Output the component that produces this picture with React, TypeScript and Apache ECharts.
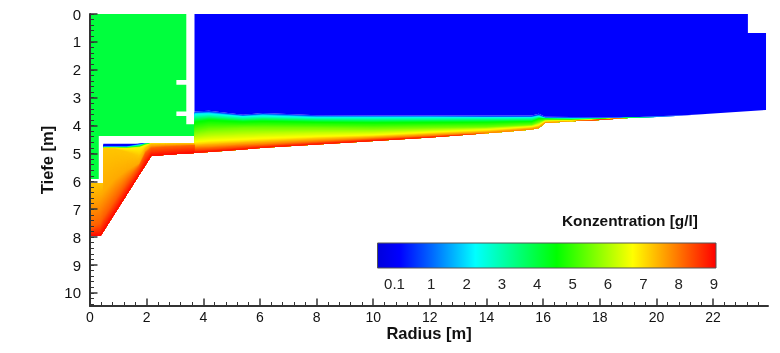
import React, { useEffect, useRef } from "react";
import * as echarts from "echarts";

const xTitle = "Radius [m]";
const yTitle = "Tiefe [m]";
const legendTitle = "Konzentration [g/l]";
const legendTickValues = [-0.04, 1, 2, 3, 4, 5, 6, 7, 8, 9];
const legendLabels = ["0.1", "1", "2", "3", "4", "5", "6", "7", "8", "9"];
const legendRange = [-0.52, 9.056];
const xMajorTicks = [0, 2, 4, 6, 8, 10, 12, 14, 16, 18, 20, 22];
const yMajorTicks = [0, 1, 2, 3, 4, 5, 6, 7, 8, 9, 10];

const colorScale: [number, string][] = [
  [-0.52, "#0000dc"],
  [0.1, "#0000ff"],
  [1, "#0066ff"],
  [2.25, "#00ffff"],
  [4.55, "#00ff00"],
  [6.7, "#ffff00"],
  [7.9, "#ff8000"],
  [9.056, "#ff0000"],
];

const tankLevel = 4.0;
const clearLevel = 0.1;

const tankOutline = [
  [0, 0], [3.4, 0], [3.4, 2.37], [3.05, 2.37], [3.05, 2.54], [3.4, 2.54], [3.4, 3.5], [3.05, 3.5],
  [3.05, 3.66], [3.4, 3.66], [3.4, 3.95], [3.69, 3.95], [3.69, 4.37], [0.31, 4.37], [0.31, 5.92], [0, 5.92],
];
const clearHead = [
  [3.69, 0], [23.23, 0], [23.23, 0.68], [23.87, 0.68],
];

const channelRadius = [3.69, 4.2, 5.4, 6.1, 8, 10, 12, 14, 15.6, 15.85, 16.07, 17, 18, 19, 20, 21, 22, 23.87];
const channelLevels = [0.1, 1, 2.25, 4.5, 5.5, 6.7, 8, 9];
const channelDepth01 = [3.5, 3.47, 3.61, 3.55, 3.63, 3.64, 3.64, 3.64, 3.64, 3.58, 3.68, 3.69, 3.71, 3.71, 3.67, 3.63, 3.57, 3.44];
const channelDepth1 = [3.54, 3.51, 3.64, 3.59, 3.66, 3.67, 3.67, 3.68, 3.68, 3.62, 3.71, 3.72, 3.73, 3.715, 3.68, 3.64, 3.57, 3.44];
const channelDepth2 = [3.58, 3.57, 3.67, 3.64, 3.7, 3.7, 3.7, 3.7, 3.7, 3.66, 3.73, 3.74, 3.75, 3.72, 3.69, 3.64, 3.57, 3.44];
const channelDepth4 = [3.87, 3.8, 3.86, 3.84, 3.87, 3.89, 3.88, 3.87, 3.85, 3.75, 3.76, 3.78, 3.76, 3.725, 3.69, 3.64, 3.57, 3.44];
const channelDepth5 = [4.23, 4.14, 4.08, 4.08, 4.08, 4.1, 4.07, 4.05, 3.98, 3.88, 3.8, 3.8, 3.77, 3.73, 3.69, 3.64, 3.57, 3.44];
const channelDepth6 = [4.59, 4.55, 4.5, 4.46, 4.39, 4.34, 4.24, 4.15, 4.04, 3.98, 3.84, 3.82, 3.78, 3.73, 3.69, 3.64, 3.57, 3.44];
const channelDepth8 = [4.8, 4.78, 4.71, 4.68, 4.57, 4.46, 4.37, 4.28, 4.14, 4.09, 3.91, 3.85, 3.78, 3.73, 3.69, 3.64, 3.57, 3.44];
const channelDepth9 = [4.98, 4.95, 4.86, 4.8, 4.68, 4.55, 4.43, 4.28, 4.14, 4.09, 3.91, 3.85, 3.8, 3.73, 3.69, 3.64, 3.57, 3.44];

const hopperRadius = [0, 0.37, 0.47, 0.47, 0.9, 1.3, 1.75, 1.96, 2.16, 2.6, 3.2, 3.69];
const hopperLevels = [0.1, 0.1, 2.25, 4.5, 6.8, 7.25, 7.5, 8.2, 9];
const hopperDepthA = [6.06, 6.06, 6.06, 4.65, 4.65, 4.65, 4.65, 4.63, 4.63, 4.63, 4.63, 4.63];
const hopperDepthB = [6.06, 6.06, 6.06, 4.74, 4.74, 4.74, 4.65, 4.63, 4.63, 4.63, 4.63, 4.63];
const hopperDepthC = [6.06, 6.06, 6.06, 4.76, 4.76, 4.76, 4.69, 4.63, 4.63, 4.63, 4.63, 4.63];
const hopperDepthD = [6.06, 6.06, 6.06, 4.78, 4.78, 4.78, 4.74, 4.65, 4.63, 4.63, 4.63, 4.63];
const hopperDepthE = [6.06, 6.06, 6.06, 4.8, 4.8, 4.81, 4.78, 4.7, 4.63, 4.63, 4.63, 4.63];
const hopperDepthF = [6.06, 6.06, 6.06, 4.82, 4.84, 4.95, 5.1, 4.8, 4.66, 4.66, 4.65, 4.65];
const hopperDepthF2 = [6.6, 6.5, 6.4, 6.4, 5.9, 5.6, 5.35, 4.9, 4.72, 4.7, 4.68, 4.68];
const hopperDepthG = [7.7, 7.5, 7.3, 7.3, 6.65, 6.05, 5.45, 5.0, 4.82, 4.78, 4.75, 4.72];
const hopperDepthH = [7.96, 7.96, 7.8, 7.8, 7.11, 6.47, 5.75, 5.41, 5.09, 5.06, 5.01, 4.98];

const channelRows = [channelDepth01, channelDepth1, channelDepth2, channelDepth4, channelDepth5, channelDepth6, channelDepth8, channelDepth9];
const hopperRows = [hopperDepthA, hopperDepthB, hopperDepthC, hopperDepthD, hopperDepthE, hopperDepthF, hopperDepthF2, hopperDepthG, hopperDepthH];
const clearOutline = clearHead.concat(
  channelRadius.map((r, i) => [r, channelDepth01[i]]).reverse()
);

function hexToRgb(h: string) {
  return [parseInt(h.slice(1, 3), 16), parseInt(h.slice(3, 5), 16), parseInt(h.slice(5, 7), 16)];
}
function colorOf(v: number) {
  for (let i = 1; i < colorScale.length; i++) {
    if (v <= colorScale[i][0]) {
      const [v0, c0] = colorScale[i - 1];
      const [v1, c1] = colorScale[i];
      const t = Math.max(0, (v - v0) / (v1 - v0));
      const a = hexToRgb(c0);
      const b = hexToRgb(c1);
      return `rgb(${a.map((x, k) => Math.round(x + (b[k] - x) * t)).join(",")})`;
    }
  }
  return colorScale[colorScale.length - 1][1];
}

function outlineItem(points: number[][], level: number) {
  return (_: any, api: any) => ({
    type: "polygon",
    shape: { points: points.map((p) => api.coord(p)) },
    style: { fill: colorOf(level) },
  });
}

// Filled contour bands: each band runs from its upper contour down to the lower boundary
function bandItem(radius: number[], levels: number[], rows: number[][]) {
  return (_: any, api: any) => {
    const children: any[] = [];
    const bottom = rows[rows.length - 1].map((d, i) => api.coord([radius[i], d]));
    for (let k = 0; k < rows.length - 1; k++) {
      const thick = Math.max(...rows[k].map((d, i) => rows[k + 1][i] - d));
      const steps = Math.max(1, Math.ceil(thick * 28));
      for (let s = 0; s < steps; s++) {
        const t = (s + 0.5) / steps;
        const u = s / steps;
        const top = rows[k].map((d, i) => api.coord([radius[i], d + (rows[k + 1][i] - d) * u]));
        children.push({
          type: "polygon",
          shape: { points: top.concat(bottom.slice().reverse()) },
          style: { fill: colorOf(levels[k] + (levels[k + 1] - levels[k]) * t) },
        });
      }
    }
    return { type: "group", children };
  };
}

function legendBarItem(_: any, api: any) {
  const a = api.coord([legendRange[0], 1]);
  const b = api.coord([legendRange[1], 0]);
  const span = legendRange[1] - legendRange[0];
  return {
    type: "rect",
    shape: { x: a[0], y: a[1], width: b[0] - a[0], height: b[1] - a[1] },
    style: {
      stroke: "#555",
      lineWidth: 1,
      fill: new echarts.graphic.LinearGradient(
        0, 0, 1, 0,
        colorScale.map(([v, c]) => ({ offset: (v - legendRange[0]) / span, color: c }))
      ),
    },
  };
}

const font = "'Liberation Sans', Arial, sans-serif";

export default function App() {
  const ref = useRef<HTMLDivElement>(null);
  useEffect(() => {
    const chart = echarts.init(ref.current!, undefined, { renderer: "svg" });
    const customBase = { type: "custom", silent: true, clip: false, data: [[0]], xAxisIndex: 0, yAxisIndex: 0 };
    chart.setOption({
      animation: false,
      backgroundColor: "#fff",
      title: {
        text: legendTitle,
        left: 562,
        top: 213,
        textStyle: { fontFamily: font, fontSize: 15.4, fontWeight: "bold", color: "#111" },
        padding: 0,
      },
      grid: [
        { left: 90, top: 14, width: 678, height: 292 },
        { left: 377.5, top: 243, width: 338.5, height: 25 },
      ],
      xAxis: [
        {
          type: "value", min: 0, max: 23.94, interval: 2, gridIndex: 0, z: 10, position: "bottom",
          name: xTitle, nameLocation: "middle", nameGap: 18, nameMoveOverlap: false,
          nameTextStyle: { fontFamily: font, fontSize: 16.5, fontWeight: "bold", color: "#111" },
          axisLine: { onZero: false, lineStyle: { color: "#333", width: 2 } },
          axisTick: { inside: true, length: 7.5, customValues: xMajorTicks, lineStyle: { color: "#333", width: 1.5 } },
          minorTick: { show: true, splitNumber: 5, length: 4, lineStyle: { color: "#333", width: 1 } },
          splitLine: { show: false },
          axisLabel: { fontFamily: font, fontSize: 14, color: "#111", margin: 4, showMaxLabel: false },
        },
        {
          type: "value", min: legendRange[0], max: legendRange[1], gridIndex: 1,
          axisLine: { show: false }, axisTick: { show: false }, splitLine: { show: false },
          axisLabel: {
            customValues: legendTickValues,
            margin: 8,
            fontFamily: font, fontSize: 15, color: "#222",
            formatter: (v: number) => legendLabels[legendTickValues.indexOf(v)] ?? "",
          },
        },
      ],
      yAxis: [
        {
          type: "value", inverse: true, min: 0, max: 10.47, interval: 1, gridIndex: 0, z: 10, position: "left",
          name: yTitle, nameLocation: "middle", nameGap: 35, nameMoveOverlap: false,
          nameTextStyle: { fontFamily: font, fontSize: 16.5, fontWeight: "bold", color: "#111" },
          axisLine: { onZero: false, lineStyle: { color: "#333", width: 2 } },
          axisTick: { inside: true, length: 7.5, customValues: yMajorTicks, lineStyle: { color: "#333", width: 1.5 } },
          splitLine: { show: false },
          axisLabel: { fontFamily: font, fontSize: 15, color: "#111", margin: 9, showMaxLabel: false },
        },
        { type: "value", min: 0, max: 1, gridIndex: 1, show: false },
        {
          type: "value", inverse: true, min: 0, max: 10.47, interval: 0.2, gridIndex: 0, z: 10, position: "left",
          axisLine: { show: false, onZero: false },
          axisTick: { inside: true, length: 4, lineStyle: { color: "#333", width: 1 } },
          axisLabel: { show: false },
          splitLine: { show: false },
        },
      ],
      series: [
        { ...customBase, renderItem: outlineItem(clearOutline, clearLevel) },
        { ...customBase, renderItem: outlineItem(tankOutline, tankLevel) },
        { ...customBase, renderItem: bandItem(channelRadius, channelLevels, channelRows) },
        { ...customBase, renderItem: bandItem(hopperRadius, hopperLevels, hopperRows) },
        { ...customBase, xAxisIndex: 1, yAxisIndex: 1, renderItem: legendBarItem },
      ],
    });
    return () => chart.dispose();
  }, []);
  return (
    <div
      ref={ref}
      style={{ position: "absolute", left: 0, top: 0, width: 780, height: 353, filter: "blur(0.5px)" }}
    />
  );
}
